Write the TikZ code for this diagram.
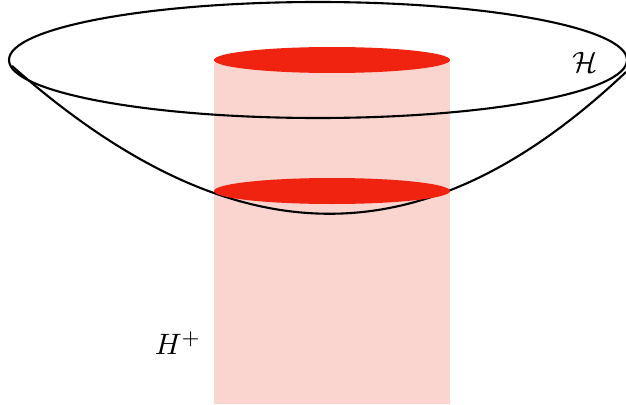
\documentclass[tikz,border=0pt]{standalone}
\begin{document}
\begin{tikzpicture}[x=1pt,y=-1pt,
  outline/.style={draw=black,line width=2.1pt},
  disc/.style={fill=discred,draw=none},
  lbl/.style={scale=2.95}]
\definecolor{discred}{RGB}{240,34,16}
\definecolor{tubepink}{RGB}{250,213,208}
\useasboundingbox (0,0) rectangle (626,404);
\fill[tubepink] (214,60) rectangle (450,404);
\draw[outline] (318,60) ellipse [x radius=309, y radius=58];
\coordinate (bl) at (12,66);
\coordinate (br) at (626,72);
\draw[outline] (bl) .. controls (240,267) and (430,257) .. (br);
\path[disc] (332,60) ellipse [x radius=118, y radius=13];
\path[disc] (332,191) ellipse [x radius=118, y radius=13];
\node[lbl] (calH) at (585,62) {$\mathcal{H}$};
\node[lbl] (Hplus) at (178,343) {$H^+$};
\end{tikzpicture}
\end{document}
